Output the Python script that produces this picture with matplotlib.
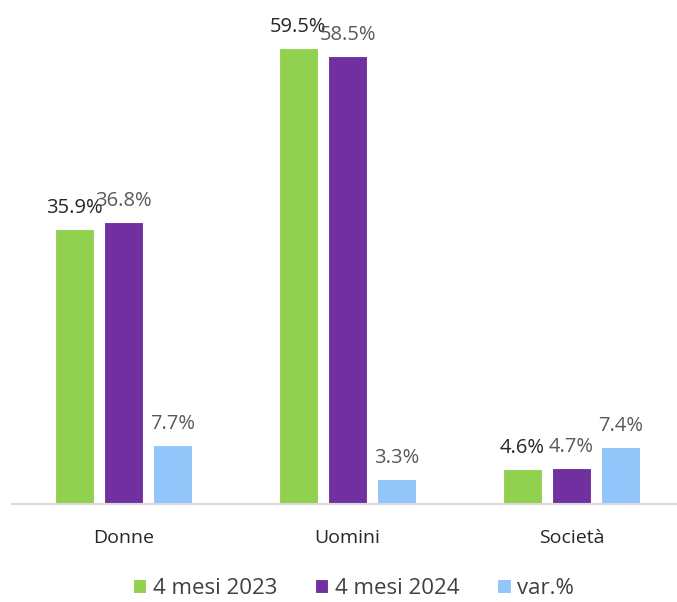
import numpy as np
import matplotlib.pyplot as plt

plt.rcParams['font.family'] = ['Open Sans', 'DejaVu Sans']

categories = ['Donne', 'Uomini', 'Società']
series_names = ['4 mesi 2023', '4 mesi 2024', 'var.%']
v2023 = [35.9, 59.5, 4.6]
v2024 = [36.8, 58.5, 4.7]
var_pct = [7.7, 3.3, 7.4]

colors = ['#92D050', '#7030A0', '#92C5F9']
label_colors = ['#262626', '#595959', '#595959']

fig = plt.figure(figsize=(6.77, 6.02), dpi=100)
ax = fig.add_axes([11.5 / 677, 0.1628, 672 / 677, 0.827])

x = np.arange(len(categories))
width = 0.175
step = 0.22
all_vals = [v2023, v2024, var_pct]

for i, vals in enumerate(all_vals):
    pos = x + (i - 1) * step
    bars = ax.bar(pos, vals, width, color=colors[i], edgecolor='white',
                  linewidth=0.8, label=series_names[i])
    for b, v in zip(bars, vals):
        ax.annotate(f'{v:.1f}%', (b.get_x() + b.get_width() / 2, v),
                    xytext=(0, 8), textcoords='offset points',
                    ha='center', va='bottom', fontsize=14.5,
                    color=label_colors[i])

ax.set_xlim(-0.5, 2.5)
ax.set_ylim(0, 65)
ax.set_xticks(x)
ax.set_xticklabels(categories, fontsize=14, color='#262626')
ax.tick_params(axis='x', length=0, pad=18)
ax.set_yticks([])
for s in ['top', 'right', 'left']:
    ax.spines[s].set_visible(False)
ax.spines['bottom'].set_color('#D9D9D9')
ax.spines['bottom'].set_linewidth(1.5)

fig.legend(loc='lower center', bbox_to_anchor=(0.522, -0.028), ncol=3,
           frameon=False, fontsize=16, handlelength=0.6, handleheight=0.6,
           handletextpad=0.3, columnspacing=1.7, labelcolor='#404040')

fig.savefig('out.png', dpi=100)
